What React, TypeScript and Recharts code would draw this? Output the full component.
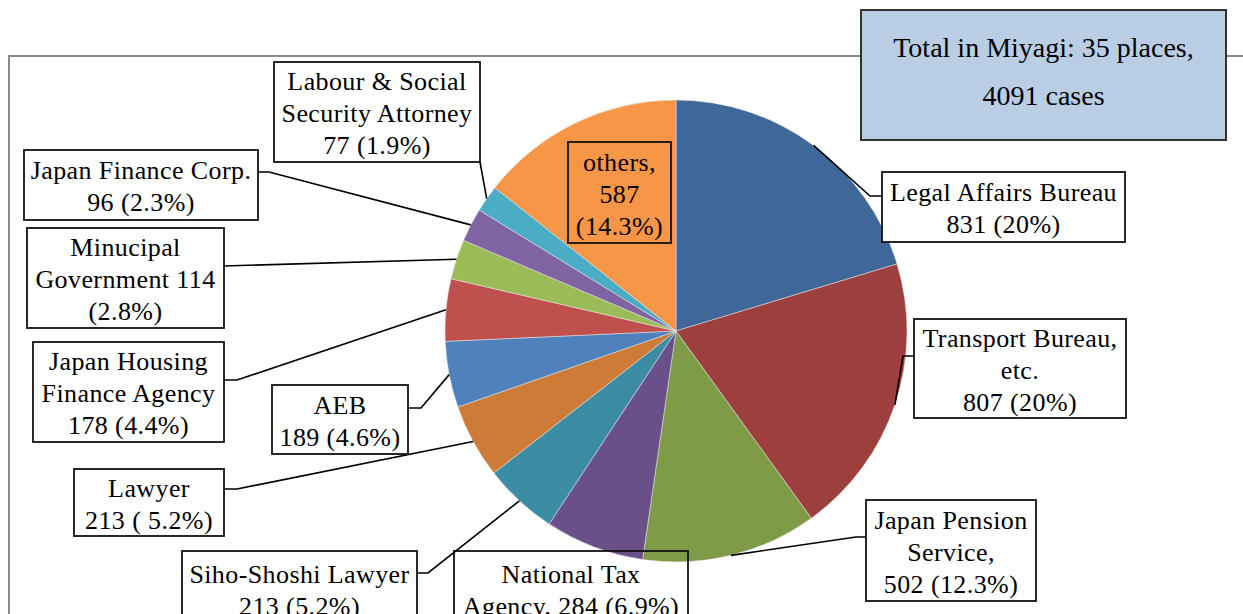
import React from "react";
import { PieChart, Pie, Cell } from "recharts";

const categories = [
  "Legal Affairs Bureau",
  "Transport Bureau, etc.",
  "Japan Pension Service",
  "National Tax Agency",
  "Siho-Shoshi Lawyer",
  "Lawyer",
  "AEB",
  "Japan Housing Finance Agency",
  "Minucipal Government",
  "Japan Finance Corp.",
  "Labour & Social Security Attorney",
  "others",
];

const cases = [831, 807, 502, 284, 213, 213, 189, 178, 114, 96, 77, 587];

const labelLines = [
  ["Legal Affairs Bureau", "831 (20%)"],
  ["Transport Bureau,", "etc.", "807 (20%)"],
  ["Japan Pension", "Service,", "502 (12.3%)"],
  ["National Tax", "Agency, 284 (6.9%)"],
  ["Siho-Shoshi Lawyer", "213 (5.2%)"],
  ["Lawyer", "213 ( 5.2%)"],
  ["AEB", "189 (4.6%)"],
  ["Japan Housing", "Finance Agency", "178 (4.4%)"],
  ["Minucipal", "Government 114", "(2.8%)"],
  ["Japan Finance Corp.", "96 (2.3%)"],
  ["Labour & Social", "Security Attorney", "77 (1.9%)"],
  ["others,", "587", "(14.3%)"],
];

const totalLines = ["Total in Miyagi: 35 places,", "4091 cases"];

const COLORS = [
  "#3F6898",
  "#9C3F3D",
  "#7F9B48",
  "#6A5088",
  "#3C8DA4",
  "#CD7B37",
  "#4F81BD",
  "#C0504D",
  "#9BBB59",
  "#8064A2",
  "#4BACC6",
  "#F79646",
];

// label box placement: [x, y, w, h], elbow and attach points of the leader line
type Box = { box: number[]; elbow?: number[]; attach?: number[]; fill?: string };
const boxes: Box[] = [
  { box: [882, 172, 243, 70], elbow: [870, 196], attach: [882, 196] },
  { box: [914, 319, 212, 99], elbow: [903, 356], attach: [914, 356] },
  { box: [866, 500, 170, 101], elbow: [856, 537], attach: [866, 537] },
  { box: [454, 551, 234, 75], fill: "none" },
  { box: [182, 551, 235, 75], elbow: [428, 573], attach: [417, 573] },
  { box: [74, 469, 150, 67], elbow: [237, 489], attach: [224, 489] },
  { box: [272, 385, 136, 69], elbow: [421, 408], attach: [408, 408] },
  { box: [33, 342, 191, 100], elbow: [237, 380], attach: [224, 380] },
  { box: [27, 228, 197, 100], elbow: [224, 266], attach: [224, 266] },
  { box: [24, 150, 234, 70], elbow: [269, 172], attach: [258, 172] },
  { box: [274, 62, 206, 100], elbow: [480, 162], attach: [480, 162] },
  { box: [568, 142, 103, 101], fill: "#F79646" },
];

const data = categories.map((name, i) => ({ name, value: cases[i] }));

const FONT = "'Liberation Serif', 'Times New Roman', Times, serif";
const RAD = Math.PI / 180;

function renderLabel(props: any) {
  const { cx, cy, midAngle, outerRadius, index } = props;
  const b = boxes[index];
  const lines = labelLines[index];
  const [x, y, w, h] = b.box;
  const px = cx + outerRadius * Math.cos(-midAngle * RAD);
  const py = cy + outerRadius * Math.sin(-midAngle * RAD);
  const lh = 32;
  const first = y + (h - lh * lines.length) / 2 + 26;
  return (
    <g key={`lbl-${index}`}>
      {b.elbow && b.attach && (
        <polyline
          points={`${px},${py} ${b.elbow[0]},${b.elbow[1]} ${b.attach[0]},${b.attach[1]}`}
          fill="none"
          stroke="#000"
          strokeWidth={1.6}
        />
      )}
      <rect
        x={x}
        y={y}
        width={w}
        height={h}
        fill={b.fill ?? "#fff"}
        stroke="#111"
        strokeWidth={1.8}
      />
      <text
        x={x + w / 2}
        textAnchor="middle"
        fontFamily={FONT}
        fontSize={26}
        letterSpacing={0.4}
        fill="#000"
      >
        {lines.map((t, i) => (
          <tspan key={i} x={x + w / 2} y={first + i * lh}>
            {t}
          </tspan>
        ))}
      </text>
    </g>
  );
}

export default function App() {
  return (
    <div
      style={{
        position: "absolute",
        left: 0,
        top: 0,
        width: 1243,
        height: 614,
        background: "#fff",
        overflow: "hidden",
      }}
    >
      <div
        style={{
          position: "absolute",
          left: 8,
          top: 55,
          width: 1260,
          height: 600,
          borderTop: "2px solid #8a8a8a",
          borderLeft: "2px solid #8a8a8a",
        }}
      />
      <div style={{ position: "absolute", left: 0, top: 0 }}>
        <PieChart width={1243} height={614}>
          <Pie
            data={data}
            dataKey="value"
            nameKey="name"
            cx={671}
            cy={326}
            outerRadius={231}
            startAngle={90}
            endAngle={-270}
            stroke="#e8e8e8"
            strokeWidth={0.5}
            labelLine={false}
            label={renderLabel}
            isAnimationActive={false}
          >
            {data.map((d, i) => (
              <Cell key={d.name} fill={COLORS[i]} />
            ))}
          </Pie>
        </PieChart>
      </div>
      <div
        style={{
          position: "absolute",
          left: 860,
          top: 9,
          width: 363,
          height: 115,
          background: "#B9CDE5",
          border: "2px solid #333",
          fontFamily: FONT,
          fontSize: 28,
          color: "#000",
          textAlign: "center",
          lineHeight: "48px",
          paddingTop: 13,
          boxSizing: "content-box",
        }}
      >
        {totalLines.map((t) => (
          <div key={t}>{t}</div>
        ))}
      </div>
    </div>
  );
}
